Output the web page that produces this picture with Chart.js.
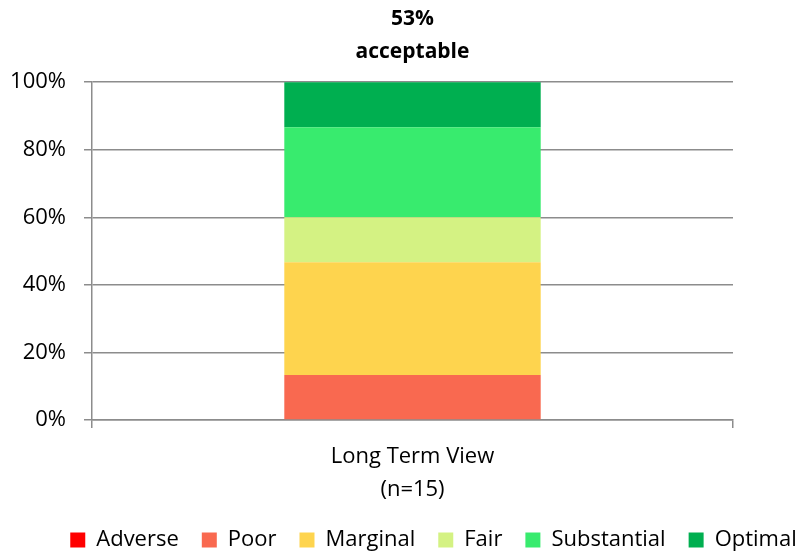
<!DOCTYPE html>
<html><head><meta charset="utf-8">
<script src="https://cdn.jsdelivr.net/npm/chart.js@4/dist/chart.umd.min.js"></script>
<style>html,body{margin:0;padding:0;background:#fff}#wrap{width:799px;height:552px}</style>
</head><body><div id="wrap"><canvas id="c" width="799" height="552"></canvas></div>
<script>
const categories = [["Long Term View", "(n=15)"]];
const seriesNames = ["Adverse", "Poor", "Marginal", "Fair", "Substantial", "Optimal"];
const adverse = [0];
const poor = [13.33];
const marginal = [33.33];
const fair = [13.33];
const substantial = [26.67];
const optimal = [13.33];
const yTicks = [0, 20, 40, 60, 80, 100];
const titleLines = ["53%", "acceptable"];

const colors = ["#FF0000", "#F96950", "#FED44E", "#D4F283", "#38EB6E", "#00AF50"];
const values = [adverse, poor, marginal, fair, substantial, optimal];
const FONT = "'Open Sans', Lato, sans-serif";
const grid = "#8c8c8c";

const legendShift = {
  id: "legendShift",
  afterLayout(chart) {
    const lg = chart.legend;
    if (lg) { lg.left += 34; lg.right += 34; lg.top -= 12; lg.bottom -= 12; }
  }
};

new Chart(document.getElementById("c"), {
  type: "bar",
  data: {
    labels: categories,
    datasets: seriesNames.map((n, i) => ({
      label: n, data: values[i], backgroundColor: colors[i],
      borderWidth: 0, categoryPercentage: 0.4, barPercentage: 1
    }))
  },
  plugins: [legendShift],
  options: {
    responsive: false, animation: false,
    layout: { padding: { left: 0, right: 0, top: 3, bottom: -21 } },
    plugins: {
      title: { display: true, text: titleLines, fullSize: false, color: "#000",
        font: { family: FONT, size: 21, weight: "bold", lineHeight: 1.55 }, padding: { top: 0, bottom: 14 } },
      legend: { position: "bottom",
        labels: { boxWidth: 15, boxHeight: 15, padding: 23, color: "#000",
          font: { family: FONT, size: 22 } } },
      tooltip: { enabled: false }
    },
    scales: {
      x: { stacked: true,
        grid: { offset: true, drawOnChartArea: false, tickLength: 8, color: grid, lineWidth: 1.5 },
        border: { color: grid, width: 1.5 },
        ticks: { color: "#000", font: { family: FONT, size: 22, lineHeight: 1.5 }, padding: 12 } },
      y: { stacked: true, min: 0, max: 100,
        afterBuildTicks: (ax) => { ax.ticks = yTicks.map(v => ({ value: v })); },
        afterFit: (ax) => { ax.width = 92; },
        grid: { color: grid, lineWidth: 1.5, tickLength: 8 },
        border: { color: grid, width: 1.5 },
        ticks: { color: "#000", font: { family: FONT, size: 22 }, padding: 18,
          callback: v => v + "%" } },
      yRight: { position: "right", display: true,
        afterFit: (ax) => { ax.width = 66; },
        grid: { display: false }, border: { display: false }, ticks: { display: false } }
    }
  }
});
</script></body></html>
